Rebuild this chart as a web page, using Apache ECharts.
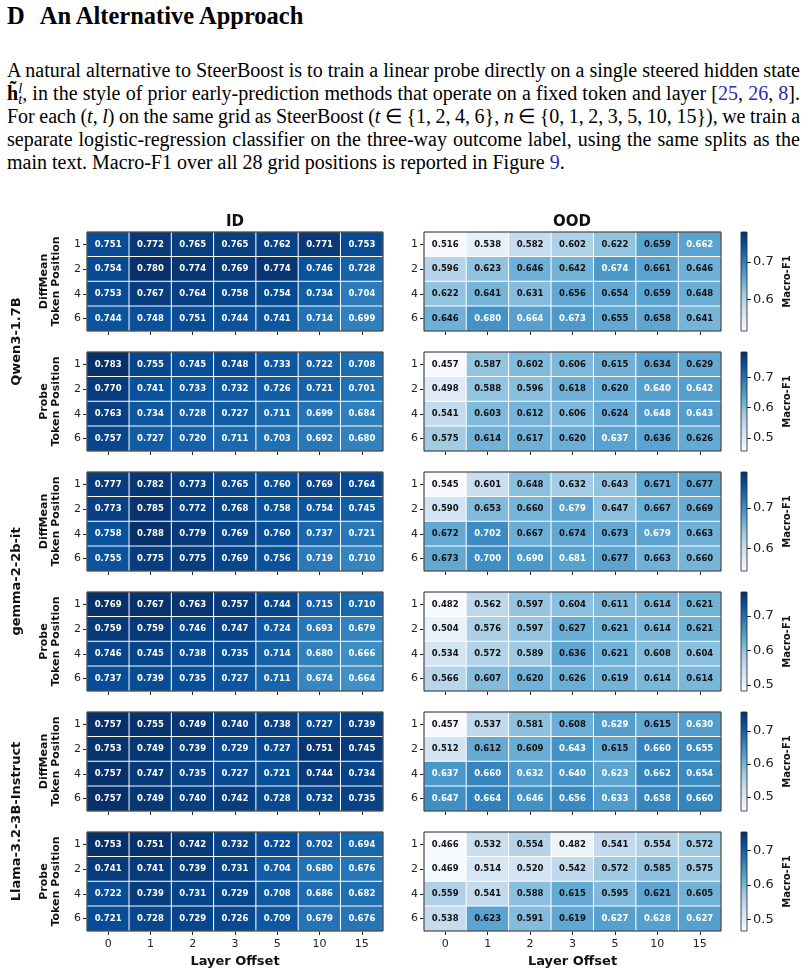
<!DOCTYPE html>
<html>
<head>
<meta charset="utf-8">
<script src="https://cdn.jsdelivr.net/npm/echarts@6/dist/echarts.min.js"></script>
<style>
body { margin: 0; background: #fff; width: 808px; height: 974px; overflow: hidden; position: relative; }
.head { position: absolute; left: 7px; top: 2px; font: bold 24.5px/28px "Liberation Serif", serif; color: #000; }
.para { position: absolute; left: 7px; top: 59px; width: 793px; font: 20px/22.8px "Liberation Serif", serif; color: #000; }
.para div { text-align: justify; text-align-last: justify; white-space: nowrap; word-spacing: -2px; }
.para div.last { text-align-last: left; word-spacing: 0; }
.cite { color: #2b2ba6; }
.ss { display: inline-block; vertical-align: -0.3em; line-height: 0.75em; font-size: 0.72em; }
#chart { position: absolute; left: 0; top: 200px; width: 808px; height: 774px; }
</style>
</head>
<body>
<div class="head">D<span style="margin-left:15px">An Alternative Approach</span></div>
<div class="para">
  <div>A natural alternative to SteerBoost is to train a linear probe directly on a single steered hidden state</div>
  <div><b>h&#771;</b><span class="ss"><i>l</i><br><i>t</i></span>, in the style of prior early-prediction methods that operate on a fixed token and layer [<span class="cite">25</span>, <span class="cite">26</span>, <span class="cite">8</span>].</div>
  <div>For each (<i>t</i>, <i>l</i>) on the same grid as SteerBoost (<i>t</i> &isin; {1, 2, 4, 6}, <i>n</i> &isin; {0, 1, 2, 3, 5, 10, 15}), we train a</div>
  <div>separate logistic-regression classifier on the three-way outcome label, using the same splits as the</div>
  <div class="last">main text. Macro-F1 over all 28 grid positions is reported in Figure <span class="cite">9</span>.</div>
</div>
<div id="chart"></div>
<script>
// axes
const layers = ['0', '1', '2', '3', '5', '10', '15'];
const positions = ['1', '2', '4', '6'];
const cbTicks = [0.5, 0.6, 0.7];

// Qwen3-1.7B
const qwenDiffMeanID = [
  [0.751, 0.772, 0.765, 0.765, 0.762, 0.771, 0.753],
  [0.754, 0.780, 0.774, 0.769, 0.774, 0.746, 0.728],
  [0.753, 0.767, 0.764, 0.758, 0.754, 0.734, 0.704],
  [0.744, 0.748, 0.751, 0.744, 0.741, 0.714, 0.699]
];
const qwenDiffMeanOOD = [
  [0.516, 0.538, 0.582, 0.602, 0.622, 0.659, 0.662],
  [0.596, 0.623, 0.646, 0.642, 0.674, 0.661, 0.646],
  [0.622, 0.641, 0.631, 0.656, 0.654, 0.659, 0.648],
  [0.646, 0.680, 0.664, 0.673, 0.655, 0.658, 0.641]
];
const qwenProbeID = [
  [0.783, 0.755, 0.745, 0.748, 0.733, 0.722, 0.708],
  [0.770, 0.741, 0.733, 0.732, 0.726, 0.721, 0.701],
  [0.763, 0.734, 0.728, 0.727, 0.711, 0.699, 0.684],
  [0.757, 0.727, 0.720, 0.711, 0.703, 0.692, 0.680]
];
const qwenProbeOOD = [
  [0.457, 0.587, 0.602, 0.606, 0.615, 0.634, 0.629],
  [0.498, 0.588, 0.596, 0.618, 0.620, 0.640, 0.642],
  [0.541, 0.603, 0.612, 0.606, 0.624, 0.648, 0.643],
  [0.575, 0.614, 0.617, 0.620, 0.637, 0.636, 0.626]
];

// gemma-2-2b-it
const gemmaDiffMeanID = [
  [0.777, 0.782, 0.773, 0.765, 0.760, 0.769, 0.764],
  [0.773, 0.785, 0.772, 0.768, 0.758, 0.754, 0.745],
  [0.758, 0.788, 0.779, 0.769, 0.760, 0.737, 0.721],
  [0.755, 0.775, 0.775, 0.769, 0.756, 0.719, 0.710]
];
const gemmaDiffMeanOOD = [
  [0.545, 0.601, 0.648, 0.632, 0.643, 0.671, 0.677],
  [0.590, 0.653, 0.660, 0.679, 0.647, 0.667, 0.669],
  [0.672, 0.702, 0.667, 0.674, 0.673, 0.679, 0.663],
  [0.673, 0.700, 0.690, 0.681, 0.677, 0.663, 0.660]
];
const gemmaProbeID = [
  [0.769, 0.767, 0.763, 0.757, 0.744, 0.715, 0.710],
  [0.759, 0.759, 0.746, 0.747, 0.724, 0.693, 0.679],
  [0.746, 0.745, 0.738, 0.735, 0.714, 0.680, 0.666],
  [0.737, 0.739, 0.735, 0.727, 0.711, 0.674, 0.664]
];
const gemmaProbeOOD = [
  [0.482, 0.562, 0.597, 0.604, 0.611, 0.614, 0.621],
  [0.504, 0.576, 0.597, 0.627, 0.621, 0.614, 0.621],
  [0.534, 0.572, 0.589, 0.636, 0.621, 0.608, 0.604],
  [0.566, 0.607, 0.620, 0.626, 0.619, 0.614, 0.614]
];

// Llama-3.2-3B-Instruct
const llamaDiffMeanID = [
  [0.757, 0.755, 0.749, 0.740, 0.738, 0.727, 0.739],
  [0.753, 0.749, 0.739, 0.729, 0.727, 0.751, 0.745],
  [0.757, 0.747, 0.735, 0.727, 0.721, 0.744, 0.734],
  [0.757, 0.749, 0.740, 0.742, 0.728, 0.732, 0.735]
];
const llamaDiffMeanOOD = [
  [0.457, 0.537, 0.581, 0.608, 0.629, 0.615, 0.630],
  [0.512, 0.612, 0.609, 0.643, 0.615, 0.660, 0.655],
  [0.637, 0.660, 0.632, 0.640, 0.623, 0.662, 0.654],
  [0.647, 0.664, 0.646, 0.656, 0.633, 0.658, 0.660]
];
const llamaProbeID = [
  [0.753, 0.751, 0.742, 0.732, 0.722, 0.702, 0.694],
  [0.741, 0.741, 0.739, 0.731, 0.704, 0.680, 0.676],
  [0.722, 0.739, 0.731, 0.729, 0.708, 0.686, 0.682],
  [0.721, 0.728, 0.729, 0.726, 0.709, 0.679, 0.676]
];
const llamaProbeOOD = [
  [0.466, 0.532, 0.554, 0.482, 0.541, 0.554, 0.572],
  [0.469, 0.514, 0.520, 0.542, 0.572, 0.585, 0.575],
  [0.559, 0.541, 0.588, 0.615, 0.595, 0.621, 0.605],
  [0.538, 0.623, 0.591, 0.619, 0.627, 0.628, 0.627]
];

const rows = [
  { model: 'Qwen3-1.7B', method: 'DiffMean', id: qwenDiffMeanID, ood: qwenDiffMeanOOD },
  { model: 'Qwen3-1.7B', method: 'Probe', id: qwenProbeID, ood: qwenProbeOOD },
  { model: 'gemma-2-2b-it', method: 'DiffMean', id: gemmaDiffMeanID, ood: gemmaDiffMeanOOD },
  { model: 'gemma-2-2b-it', method: 'Probe', id: gemmaProbeID, ood: gemmaProbeOOD },
  { model: 'Llama-3.2-3B-Instruct', method: 'DiffMean', id: llamaDiffMeanID, ood: llamaDiffMeanOOD },
  { model: 'Llama-3.2-3B-Instruct', method: 'Probe', id: llamaProbeID, ood: llamaProbeOOD }
];

// matplotlib "Blues"
const BLUES = ['#f7fbff', '#deebf7', '#c6dbef', '#9ecae1', '#6baed6', '#4292c6', '#2171b5', '#08519c', '#08306b'];

let grid = [], xAxis = [], yAxis = [], series = [], visualMap = [], graphic = [];
const rowTop0 = 32, rowStep = 120, rowH = 99;

rows.forEach((r, i) => {
  let top = rowTop0 + i * rowStep;
  let all = r.id.flat().concat(r.ood.flat());
  let vmin = Math.min(...all), vmax = Math.max(...all);
  let last = i === rows.length - 1;

  [[87, 296, r.id], [424, 297, r.ood]].forEach(([left, width, vals], k) => {
    let gi = grid.length;
    grid.push({ left: left, top: top, width: width, height: rowH, show: true, z: 5,
      backgroundColor: 'transparent', borderColor: '#222', borderWidth: 1 });
    xAxis.push({
      type: 'category', gridIndex: gi, data: layers, position: 'bottom',
      axisLine: { show: false },
      axisTick: { show: true, alignWithLabel: true, length: 4, lineStyle: { color: '#222' } },
      axisLabel: { show: last, fontSize: 11, color: '#222', margin: 8 },
      name: last ? 'Layer Offset' : '', nameLocation: 'middle', nameGap: 24,
      nameTextStyle: { fontWeight: 'bold', fontSize: 13, color: '#111' }
    });
    yAxis.push({
      type: 'category', gridIndex: gi, data: positions, inverse: true,
      axisLine: { show: false },
      axisTick: { show: true, alignWithLabel: true, length: 4, lineStyle: { color: '#222' } },
      axisLabel: { fontSize: 11, color: '#222', margin: 6 },
      name: k === 0 ? r.method + '\nToken Position' : '', nameLocation: 'middle', nameRotate: 90, nameGap: 25,
      nameTextStyle: { fontWeight: 'bold', fontSize: 11, lineHeight: 12, color: '#111' }
    });
    let data = [];
    vals.forEach((row, yi) => row.forEach((v, xi) => {
      let t = (v - vmin) / (vmax - vmin);
      data.push({ value: [xi, yi, v], label: { color: t >= 0.55 ? '#fff' : '#111' } });
    }));
    series.push({
      type: 'heatmap', xAxisIndex: gi, yAxisIndex: gi, data: data,
      label: { show: true, fontSize: 8.5, fontWeight: 'bold', formatter: p => p.value[2].toFixed(3) },
      itemStyle: { borderColor: '#fff', borderWidth: 1 },
      emphasis: { disabled: true }
    });
  });

  visualMap.push({ type: 'continuous', show: false, dimension: 2,
    seriesIndex: [series.length - 2, series.length - 1],
    min: vmin, max: vmax, inRange: { color: BLUES } });

  // colorbar shared by ID and OOD of this row
  let ticks = cbTicks.filter(v => v >= vmin && v <= vmax);
  let gi = grid.length;
  grid.push({ left: 741, top: top, width: 6, height: rowH });
  xAxis.push({ type: 'category', gridIndex: gi, data: [''], show: false });
  yAxis.push({
    type: 'value', gridIndex: gi, min: vmin, max: vmax, position: 'right',
    axisLine: { show: false }, splitLine: { show: false },
    axisTick: { show: true, length: 4, customValues: ticks, lineStyle: { color: '#222' } },
    axisLabel: { customValues: ticks, fontSize: 13, color: '#222', margin: 6, formatter: v => v.toFixed(1) },
    name: 'Macro-F1', nameLocation: 'middle', nameRotate: 90, nameGap: 35,
    nameTextStyle: { fontWeight: 'bold', fontSize: 10, color: '#111' }
  });
  series.push({
    type: 'custom', xAxisIndex: gi, yAxisIndex: gi, silent: true,
    data: [[0, vmin, vmax]],
    renderItem: (params, api) => {
      let cs = params.coordSys;
      let yTop = api.coord([0, api.value(2)])[1];
      let yBot = api.coord([0, api.value(1)])[1];
      return {
        type: 'rect',
        shape: { x: cs.x, y: yTop, width: cs.width, height: yBot - yTop },
        style: {
          fill: new echarts.graphic.LinearGradient(0, 1, 0, 0, BLUES.map((c, j) => ({ offset: j / 8, color: c }))),
          stroke: '#222', lineWidth: 0.8
        }
      };
    }
  });

  // model name between its two rows
  if (i % 2 === 0) {
    graphic.push({ type: 'text', x: 17, y: top + (rowStep + rowH) / 2, rotation: Math.PI / 2,
      style: { text: r.model, font: 'bold 13px "DejaVu Sans"', fill: '#111', align: 'center', verticalAlign: 'middle' } });
  }
});

graphic.push({ type: 'text', x: 235, y: 22, style: { text: 'ID', font: 'bold 15px "DejaVu Sans"', fill: '#111', align: 'center', verticalAlign: 'middle' } });
graphic.push({ type: 'text', x: 572, y: 22, style: { text: 'OOD', font: 'bold 15px "DejaVu Sans"', fill: '#111', align: 'center', verticalAlign: 'middle' } });

let myChart = echarts.init(document.getElementById('chart'));
let option = {
  animation: false,
  textStyle: { fontFamily: 'DejaVu Sans' },
  grid: grid,
  xAxis: xAxis,
  yAxis: yAxis,
  visualMap: visualMap,
  graphic: graphic,
  series: series
};
myChart.setOption(option);
</script>
</body>
</html>
